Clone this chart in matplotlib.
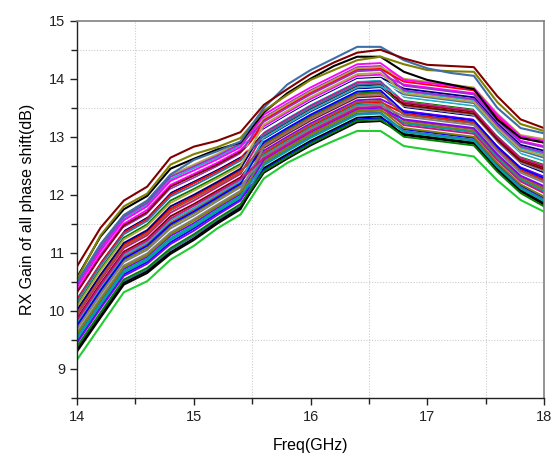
import matplotlib
matplotlib.use("Agg")
import matplotlib.pyplot as plt
from matplotlib.ticker import MultipleLocator

plt.rcParams['font.family'] = ['Liberation Sans', 'DejaVu Sans']

# frequency points (GHz)
freq = [14.0, 14.2, 14.4, 14.6, 14.8, 15.0, 15.2, 15.4, 15.6, 15.8, 16.0,
        16.2, 16.4, 16.6, 16.8, 17.0, 17.2, 17.4, 17.6, 17.8, 18.0]

# curves that stand out at the edges of the band
gain_wine = [10.77, 11.43, 11.90, 12.14, 12.64, 12.83, 12.93, 13.08, 13.55, 13.82, 14.08,
             14.28, 14.45, 14.50, 14.35, 14.24, 14.22, 14.20, 13.70, 13.30, 13.15]
gain_steel = [10.50, 11.15, 11.65, 11.90, 12.35, 12.60, 12.75, 12.92, 13.50, 13.90, 14.15,
              14.35, 14.55, 14.55, 14.32, 14.18, 14.10, 14.05, 13.50, 13.15, 13.06]
gain_olive = [10.55, 11.30, 11.80, 12.02, 12.52, 12.70, 12.82, 12.98, 13.45, 13.72, 13.98,
              14.15, 14.32, 14.38, 14.25, 14.15, 14.13, 14.12, 13.60, 13.22, 13.10]
gain_black = [10.58, 11.28, 11.75, 11.98, 12.45, 12.62, 12.78, 12.90, 13.42, 13.75, 14.00,
              14.22, 14.38, 14.38, 14.12, 13.98, 13.90, 13.82, 13.30, 12.98, 12.90]
gain_green = [9.16, 9.74, 10.32, 10.51, 10.88, 11.12, 11.42, 11.66, 12.28, 12.55, 12.75,
              12.93, 13.10, 13.10, 12.84, 12.78, 12.72, 12.66, 12.25, 11.91, 11.71]

# the rest of the phase states
gain_states = [
    [9.30, 9.88, 10.45, 10.65, 10.98, 11.22, 11.50, 11.75, 12.46, 12.70, 12.93, 13.13, 13.33, 13.35, 13.03, 12.98, 12.93, 12.88, 12.43, 12.06, 11.83],
    [9.33, 9.91, 10.48, 10.68, 11.01, 11.25, 11.53, 11.78, 12.38, 12.62, 12.85, 13.05, 13.25, 13.27, 13.05, 13.00, 12.95, 12.90, 12.45, 12.08, 11.86],
    [9.36, 9.94, 10.51, 10.71, 11.05, 11.29, 11.56, 11.81, 12.53, 12.77, 13.00, 13.20, 13.40, 13.42, 13.10, 13.05, 13.00, 12.95, 12.50, 12.13, 11.92],
    [9.39, 9.97, 10.54, 10.74, 11.08, 11.32, 11.59, 11.84, 12.41, 12.65, 12.88, 13.08, 13.28, 13.30, 13.00, 12.95, 12.90, 12.85, 12.40, 12.03, 11.80],
    [9.45, 10.04, 10.60, 10.81, 11.15, 11.38, 11.65, 11.90, 12.61, 12.85, 13.08, 13.28, 13.48, 13.50, 13.30, 13.25, 13.20, 13.15, 12.70, 12.33, 12.15],
    [9.48, 10.07, 10.63, 10.84, 11.18, 11.42, 11.68, 11.92, 12.43, 12.67, 12.90, 13.10, 13.30, 13.32, 13.13, 13.08, 13.03, 12.98, 12.53, 12.16, 11.94],
    [9.51, 10.10, 10.66, 10.87, 11.22, 11.45, 11.71, 11.95, 12.68, 12.92, 13.15, 13.35, 13.55, 13.57, 13.23, 13.18, 13.13, 13.08, 12.63, 12.26, 12.06],
    [9.54, 10.13, 10.69, 10.90, 11.25, 11.48, 11.74, 11.98, 12.51, 12.75, 12.98, 13.18, 13.38, 13.40, 13.08, 13.03, 12.98, 12.93, 12.48, 12.11, 11.89],
    [9.57, 10.16, 10.72, 10.93, 11.29, 11.51, 11.77, 12.01, 12.76, 13.00, 13.23, 13.43, 13.63, 13.65, 13.45, 13.40, 13.35, 13.30, 12.85, 12.48, 12.32],
    [9.60, 10.19, 10.75, 10.96, 11.32, 11.55, 11.80, 12.04, 12.58, 12.82, 13.05, 13.25, 13.45, 13.47, 13.15, 13.10, 13.05, 13.00, 12.55, 12.18, 11.97],
    [9.63, 10.22, 10.78, 10.99, 11.35, 11.58, 11.83, 12.07, 12.83, 13.07, 13.30, 13.50, 13.70, 13.72, 13.53, 13.48, 13.43, 13.38, 12.93, 12.56, 12.41],
    [9.69, 10.28, 10.84, 11.05, 11.42, 11.64, 11.89, 12.13, 12.66, 12.90, 13.13, 13.33, 13.53, 13.55, 13.35, 13.30, 13.25, 13.20, 12.75, 12.38, 12.21],
    [9.72, 10.31, 10.87, 11.08, 11.46, 11.68, 11.92, 12.16, 12.56, 12.80, 13.03, 13.23, 13.43, 13.45, 13.25, 13.20, 13.15, 13.10, 12.65, 12.28, 12.09],
    [9.75, 10.35, 10.90, 11.12, 11.49, 11.71, 11.95, 12.19, 12.91, 13.15, 13.38, 13.58, 13.78, 13.80, 13.43, 13.38, 13.33, 13.28, 12.83, 12.46, 12.29],
    [9.78, 10.38, 10.93, 11.15, 11.52, 11.74, 11.98, 12.21, 12.73, 12.97, 13.20, 13.40, 13.60, 13.62, 13.28, 13.23, 13.18, 13.13, 12.68, 12.31, 12.12],
    [9.81, 10.41, 10.96, 11.18, 11.56, 11.77, 12.01, 12.24, 12.98, 13.22, 13.45, 13.65, 13.85, 13.87, 13.68, 13.63, 13.58, 13.53, 13.08, 12.71, 12.58],
    [9.84, 10.44, 10.99, 11.21, 11.59, 11.81, 12.04, 12.27, 12.63, 12.87, 13.10, 13.30, 13.50, 13.52, 13.20, 13.15, 13.10, 13.05, 12.60, 12.23, 12.03],
    [9.87, 10.47, 11.02, 11.24, 11.63, 11.84, 12.07, 12.30, 12.81, 13.05, 13.28, 13.48, 13.68, 13.70, 13.58, 13.53, 13.48, 13.43, 12.98, 12.61, 12.47],
    [9.93, 10.53, 11.08, 11.30, 11.69, 11.90, 12.13, 12.36, 13.06, 13.30, 13.53, 13.73, 13.93, 13.95, 13.60, 13.55, 13.50, 13.45, 13.00, 12.63, 12.50],
    [9.96, 10.56, 11.11, 11.33, 11.73, 11.94, 12.16, 12.39, 12.86, 13.10, 13.33, 13.53, 13.73, 13.75, 13.38, 13.33, 13.28, 13.23, 12.78, 12.41, 12.24],
    [9.99, 10.59, 11.14, 11.36, 11.76, 11.97, 12.19, 12.42, 12.71, 12.95, 13.18, 13.38, 13.58, 13.60, 13.40, 13.35, 13.30, 13.25, 12.80, 12.43, 12.26],
    [10.02, 10.62, 11.17, 11.39, 11.80, 12.00, 12.22, 12.45, 13.13, 13.37, 13.60, 13.80, 14.00, 14.02, 13.83, 13.78, 13.73, 13.68, 13.23, 12.86, 12.76],
    [10.05, 10.66, 11.20, 11.43, 11.83, 12.03, 12.25, 12.48, 12.93, 13.17, 13.40, 13.60, 13.80, 13.82, 13.48, 13.43, 13.38, 13.33, 12.88, 12.51, 12.35],
    [10.08, 10.69, 11.23, 11.46, 11.86, 12.07, 12.28, 12.50, 13.21, 13.45, 13.68, 13.88, 14.08, 14.10, 13.75, 13.70, 13.65, 13.60, 13.15, 12.78, 12.67],
    [10.11, 10.72, 11.26, 11.49, 11.90, 12.10, 12.31, 12.53, 12.88, 13.12, 13.35, 13.55, 13.75, 13.77, 13.63, 13.58, 13.53, 13.48, 13.03, 12.66, 12.53],
    [10.17, 10.78, 11.32, 11.55, 11.97, 12.16, 12.37, 12.59, 13.03, 13.27, 13.50, 13.70, 13.90, 13.92, 13.73, 13.68, 13.63, 13.58, 13.13, 12.76, 12.64],
    [10.20, 10.81, 11.35, 11.58, 12.00, 12.20, 12.40, 12.62, 13.28, 13.52, 13.75, 13.95, 14.15, 14.17, 13.95, 13.90, 13.85, 13.80, 13.35, 12.98, 12.90],
    [10.23, 10.84, 11.38, 11.61, 12.03, 12.23, 12.43, 12.65, 12.96, 13.20, 13.43, 13.63, 13.83, 13.85, 13.50, 13.45, 13.40, 13.35, 12.90, 12.53, 12.38],
    [10.26, 10.87, 11.41, 11.64, 12.07, 12.26, 12.46, 12.68, 13.11, 13.35, 13.58, 13.78, 13.98, 14.00, 13.65, 13.60, 13.55, 13.50, 13.05, 12.68, 12.55],
    [10.29, 10.90, 11.44, 11.67, 12.10, 12.29, 12.49, 12.71, 13.33, 13.57, 13.80, 14.00, 14.20, 14.22, 13.88, 13.83, 13.78, 13.73, 13.28, 12.91, 12.82],
    [10.32, 10.93, 11.47, 11.70, 12.14, 12.33, 12.52, 12.74, 13.01, 13.25, 13.48, 13.68, 13.88, 13.90, 13.55, 13.50, 13.45, 13.40, 12.95, 12.58, 12.44],
    [10.35, 10.97, 11.50, 11.74, 12.17, 12.36, 12.55, 12.77, 13.18, 13.42, 13.65, 13.85, 14.05, 14.07, 13.90, 13.85, 13.80, 13.75, 13.30, 12.93, 12.84],
    [10.41, 11.03, 11.56, 11.80, 12.24, 12.42, 12.61, 12.82, 13.38, 13.62, 13.85, 14.05, 14.25, 14.27, 13.98, 13.93, 13.88, 13.83, 13.38, 13.01, 12.93],
    [10.44, 11.06, 11.59, 11.83, 12.27, 12.46, 12.64, 12.85, 13.08, 13.32, 13.55, 13.75, 13.95, 13.97, 13.78, 13.73, 13.68, 13.63, 13.18, 12.81, 12.70],
    [10.47, 11.09, 11.62, 11.86, 12.31, 12.49, 12.67, 12.88, 13.26, 13.50, 13.73, 13.93, 14.13, 14.15, 13.80, 13.75, 13.70, 13.65, 13.20, 12.83, 12.73],
    [10.50, 11.12, 11.65, 11.89, 12.34, 12.52, 12.70, 12.91, 13.31, 13.55, 13.78, 13.98, 14.18, 14.20, 14.00, 13.95, 13.90, 13.85, 13.40, 13.03, 12.96],
]

# Origin-like colour cycle
palette = ['#000000', '#FF0000', '#0000FF', '#FF00FF', '#808000', '#000080',
           '#8000FF', '#800000', '#22AFC4', '#3E6FA8', '#008000', '#A0522D',
           '#9932CC', '#808080', '#FFFFFF', '#00A0A0', '#B5A642', '#C71585']

fig = plt.figure(figsize=(5.59, 4.61), dpi=100)
ax = fig.add_axes([0.138, 0.137, 0.835, 0.818])

order = [0, 20, 5, 31, 12, 27, 8, 17, 33, 2, 24, 14, 29, 10, 22, 6, 35, 18,
         1, 26, 13, 32, 9, 21, 4, 30, 15, 25, 3, 19, 34, 11, 28, 7, 23, 16]
for n, i in enumerate(order):
    ax.plot(freq, gain_states[i], color=palette[n % len(palette)], lw=1.35)

ax.plot(freq, gain_black, color='#000000', lw=1.5)
ax.plot(freq, gain_olive, color='#808000', lw=1.5)
ax.plot(freq, gain_steel, color='#3E6FA8', lw=1.5)
ax.plot(freq, gain_wine, color='#800000', lw=1.5)
ax.plot(freq, gain_green, color='#22CC33', lw=1.5)

ax.set_xlim(14, 18)
ax.set_ylim(8.5, 15)
ax.xaxis.set_major_locator(MultipleLocator(1))
ax.xaxis.set_minor_locator(MultipleLocator(0.5))
ax.yaxis.set_major_locator(MultipleLocator(1))
ax.yaxis.set_minor_locator(MultipleLocator(0.5))

# Origin style: dotted grid only at the minor ticks
ax.grid(False)
for v in [14.5, 15.5, 16.5, 17.5]:
    ax.axvline(v, color='#cccccc', ls=(0, (1, 1.5)), lw=0.8, zorder=0)
for v in [9.5, 10.5, 11.5, 12.5, 13.5, 14.5]:
    ax.axhline(v, color='#cccccc', ls=(0, (1, 1.5)), lw=0.8, zorder=0)

ax.tick_params(which='both', direction='out', top=False, right=False,
               labelsize=10.5, colors='#222222')
ax.tick_params(which='major', length=5, width=1)
ax.tick_params(which='minor', length=4, width=1)

for s in ['left', 'bottom']:
    ax.spines[s].set_color('#222222')
    ax.spines[s].set_linewidth(1.0)
for s in ['top', 'right']:
    ax.spines[s].set_color('#808080')
    ax.spines[s].set_linewidth(1.2)

ax.set_xlabel('Freq(GHz)', fontsize=11.5, labelpad=10)
ax.set_ylabel('RX Gain of all phase shift(dB)', fontsize=11.5, labelpad=10)

fig.savefig('out.png', dpi=100)
